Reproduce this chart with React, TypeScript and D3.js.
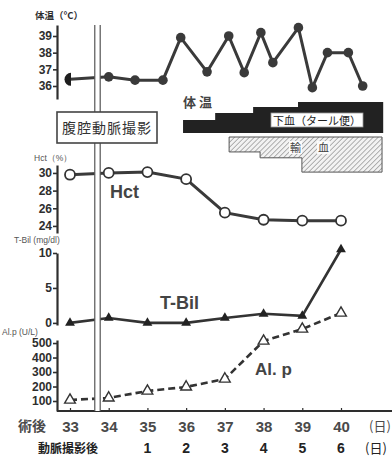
import React, { useEffect, useRef } from "react";
import * as d3 from "d3";

const W = 392;
const H = 457;

// day after surgery (術後) and day after angiography (動脈撮影後)
const days = [33, 34, 35, 36, 37, 38, 39, 40];
const daysAfterAngio = ["", "", "1", "2", "3", "4", "5", "6"];

// lab values per day
const hct = [29.8, 30, 30.1, 29.3, 25.5, 24.7, 24.6, 24.6];
const tbil = [0, 0.7, 0, 0, 0.7, 1.3, 1.0, 10.5];
const alp = [107, 121, 169, 197, 252, 514, 597, 707];

// body temperature (twice a day from day 35)
const tempTimes = [33, 34, 34.68, 35.4, 35.86, 36.54, 37.1, 37.5, 37.93, 38.24, 38.9, 39.26, 39.65, 40.19, 40.56];
const tempValues = [36.4, 36.55, 36.35, 36.35, 38.9, 36.85, 39.0, 36.8, 39.2, 37.4, 39.5, 35.9, 38.0, 38.0, 36.0];

const tempTicks = [36, 37, 38, 39];
const hctTicks = [24, 26, 28, 30];
const tbilTicks = [0, 5, 10];
const alpTicks = [100, 200, 300, 400, 500];

// 下血 (melena) amount steps and 輸血 (transfusion) steps
const melenaStart = [35.92, 36.75, 37.73, 38.89];
const melenaLevel = [2, 3.08, 4, 4.77];
const melenaEnd = 41.09;
const transfusionStart = [37.11, 37.91, 38.99];
const transfusionLevel = [2.3, 3.2, 5.4];
const transfusionEnd = 41.06;

const angioDay = [33.64, 33.78];

const NUM_FONT = "'Liberation Sans', Arial, sans-serif";
const JP_FONT = "'Noto Sans CJK JP', 'Noto Sans', sans-serif";
const INK = "#2e2e2e";

const x = d3.scaleLinear().domain([33, 40]).range([70, 341]);
const yTemp = d3.scaleLinear().domain([35.22, 39.66]).range([99, 25]);
const yHct = d3.scaleLinear().domain([23.2, 30.9]).range([233, 165]);
const yTbil = d3.scaleLinear().domain([-0.3, 10]).range([325, 253]);
const yAlp = d3.scaleLinear().domain([31, 521]).range([411, 340]);
const yMelena = d3.scaleLinear().domain([0, 1]).range([133, 126.5]);
const yTrans = d3.scaleLinear().domain([0, 1]).range([137, 143.5]);

const AXIS_X = 57;
const BASE_Y = 411;

export default function App() {
  const axesRef = useRef<SVGGElement>(null);

  useEffect(() => {
    const g = d3.select(axesRef.current);
    g.selectAll("*").remove();

    const left = (scale: d3.ScaleLinear<number, number>, ticks: number[]) => {
      const a = g
        .append("g")
        .attr("transform", `translate(${AXIS_X},0)`)
        .call(d3.axisLeft(scale).tickValues(ticks).tickSizeInner(4).tickSizeOuter(0).tickPadding(1).tickFormat(d3.format("d")));
      a.select(".domain").attr("stroke", INK).attr("stroke-width", 2.2);
      a.selectAll(".tick line").attr("stroke", INK).attr("stroke-width", 1.6);
      a.selectAll("text")
        .attr("fill", INK)
        .attr("font-family", NUM_FONT)
        .attr("font-weight", "bold")
        .attr("font-size", 12);
    };
    left(yTemp, tempTicks);
    left(yHct, hctTicks);
    left(yTbil, tbilTicks);
    left(yAlp, alpTicks);

    const b = g
      .append("g")
      .attr("transform", `translate(0,${BASE_Y})`)
      .call(d3.axisBottom(x).tickValues(days).tickSize(-3).tickPadding(10).tickFormat(d3.format("d")));
    b.select(".domain").remove();
    b.selectAll(".tick line").attr("stroke", INK).attr("stroke-width", 1.2);
    b.selectAll("text")
      .attr("fill", "#4a4a4a")
      .attr("font-family", NUM_FONT)
      .attr("font-weight", "bold")
      .attr("font-size", 15);
  }, []);

  const line = (ys: d3.ScaleLinear<number, number>, vals: number[]) =>
    d3.line<number>().x((_, i) => x(days[i])).y((d) => ys(d))(vals) || "";

  const tempLine =
    d3
      .line<number>()
      .x((_, i) => x(tempTimes[i]))
      .y((d) => yTemp(d))(tempValues) || "";

  const melenaData = [...melenaStart.map((s, i) => ({ d: s, l: melenaLevel[i] })), { d: melenaEnd, l: melenaLevel[melenaLevel.length - 1] }];
  const melenaArea =
    d3
      .area<{ d: number; l: number }>()
      .curve(d3.curveStepAfter)
      .x((p) => x(p.d))
      .y0(yMelena(0))
      .y1((p) => yMelena(p.l))(melenaData) || "";

  const transData = [...transfusionStart.map((s, i) => ({ d: s, l: transfusionLevel[i] })), { d: transfusionEnd, l: transfusionLevel[transfusionLevel.length - 1] }];
  const transArea =
    d3
      .area<{ d: number; l: number }>()
      .curve(d3.curveStepAfter)
      .x((p) => x(p.d))
      .y0(yTrans(0))
      .y1((p) => yTrans(p.l))(transData) || "";

  const tri = d3.symbol(d3.symbolTriangle, 42)() || "";
  const triOpen = d3.symbol(d3.symbolTriangle, 50)() || "";
  const halfDot = d3.arc()({ innerRadius: 0, outerRadius: 6.5, startAngle: Math.PI, endAngle: 2 * Math.PI }) || "";

  return (
    <svg width={W} height={H} style={{ position: "absolute", left: 0, top: 0, background: "#fff" }}>
      <defs>
        <pattern id="hatch" width="3.5" height="3.5" patternUnits="userSpaceOnUse" patternTransform="rotate(45)">
          <rect width="3.5" height="3.5" fill="#f2f2f2" />
          <line x1="0" y1="0" x2="0" y2="3.5" stroke="#8a8a8a" strokeWidth="1.3" />
        </pattern>
      </defs>

      {/* axis titles */}
      <text x={35} y={19} fontFamily={JP_FONT} fontWeight="bold" fontSize={9.5} fill={INK}>体温（°C）</text>
      <text x={34} y={161} fontFamily={NUM_FONT} fontSize={8.5} fill="#555">Hct（%）</text>
      <text x={14} y={243} fontFamily={NUM_FONT} fontSize={8.5} fill="#555">T-Bil (mg/dl)</text>
      <text x={2} y={335} fontFamily={NUM_FONT} fontSize={8.5} fill="#555">Al.p (U/L)</text>

      {/* melena / transfusion bars */}
      <path d={melenaArea} fill="#222" />
      <path d={transArea} fill="url(#hatch)" stroke="#555" strokeWidth={1} />
      <rect x={271} y={113} width={92} height={14} fill="#fff" stroke="#999" strokeWidth={0.8} />
      <text x={317} y={124.5} textAnchor="middle" fontFamily={JP_FONT} fontSize={11} fill="#222">下血（タール便）</text>
      <rect x={289} y={141} width={13} height={13} fill="#fff" opacity={0.85} />
      <rect x={317} y={141} width={13} height={13} fill="#fff" opacity={0.85} />
      <text x={295.5} y={152} textAnchor="middle" fontFamily={JP_FONT} fontSize={11} fill="#444">輸</text>
      <text x={323.5} y={152} textAnchor="middle" fontFamily={JP_FONT} fontSize={11} fill="#444">血</text>
      <text x={183} y={107} fontFamily={JP_FONT} fontWeight="bold" fontSize={13} fill="#444">体 温</text>

      {/* temperature */}
      <path d={tempLine} fill="none" stroke="#3a3a3a" strokeWidth={3} />
      {tempValues.map((v, i) =>
        i === 0 ? (
          <path key={i} d={halfDot} transform={`translate(${x(tempTimes[i]) + 1},${yTemp(v)})`} fill="#1e1e1e" />
        ) : (
          <circle key={i} cx={x(tempTimes[i])} cy={yTemp(v)} r={4.8} fill="#3a3a3a" />
        )
      )}

      {/* Hct */}
      <path d={line(yHct, hct)} fill="none" stroke="#3a3a3a" strokeWidth={3} />
      {hct.map((v, i) => (
        <circle key={i} cx={x(days[i])} cy={yHct(v)} r={5} fill="#fff" stroke="#333" strokeWidth={1.8} />
      ))}
      <text x={110} y={198} fontFamily={NUM_FONT} fontWeight="bold" fontSize={18} fill="#444">Hct</text>

      {/* T-Bil */}
      <path d={line(yTbil, tbil)} fill="none" stroke="#333" strokeWidth={2.6} />
      {tbil.map((v, i) => (
        <path key={i} d={tri} transform={`translate(${x(days[i])},${yTbil(v)})`} fill="#222" />
      ))}
      <text x={160} y={309} fontFamily={NUM_FONT} fontWeight="bold" fontSize={18} fill="#444">T-Bil</text>

      {/* Al.p */}
      <path d={line(yAlp, alp)} fill="none" stroke="#333" strokeWidth={2.6} strokeDasharray="7,4" />
      {alp.map((v, i) => (
        <path key={i} d={triOpen} transform={`translate(${x(days[i])},${yAlp(v)})`} fill="#fff" stroke="#333" strokeWidth={1.4} />
      ))}
      <text x={255} y={375} fontFamily={NUM_FONT} fontWeight="bold" fontSize={17} fill="#444">Al. p</text>

      <g ref={axesRef} />

      {/* baseline */}
      <line x1={AXIS_X} x2={W} y1={BASE_Y} y2={BASE_Y} stroke={INK} strokeWidth={2.2} />

      {/* angiography double line */}
      <rect x={x(angioDay[0])} y={25} width={x(angioDay[1]) - x(angioDay[0])} height={BASE_Y - 25} fill="#fff" />
      <line x1={x(angioDay[0])} x2={x(angioDay[0])} y1={25} y2={BASE_Y} stroke="#555" strokeWidth={1.2} />
      <line x1={x(angioDay[1])} x2={x(angioDay[1])} y1={25} y2={BASE_Y} stroke="#555" strokeWidth={1.2} />

      <rect x={57} y={112} width={100} height={31} fill="#fff" stroke="#444" strokeWidth={1.6} />
      <text x={107} y={133} textAnchor="middle" fontFamily={JP_FONT} fontSize={14} letterSpacing={1} fill="#333">腹腔動脈撮影</text>

      {/* x labels */}
      <text x={32} y={431} textAnchor="middle" fontFamily={JP_FONT} fontWeight="bold" fontSize={14} fill="#4a4a4a">術後</text>
      <text x={380} y={431} textAnchor="middle" fontFamily={JP_FONT} fontSize={13} fill="#4a4a4a">(日)</text>
      <text x={68} y={453} textAnchor="middle" fontFamily={JP_FONT} fontWeight="bold" fontSize={12} fill="#222">動脈撮影後</text>
      {daysAfterAngio.map((t, i) => (
        <text key={i} x={x(days[i])} y={453} textAnchor="middle" fontFamily={NUM_FONT} fontWeight="bold" fontSize={14} fill="#222">{t}</text>
      ))}
      <text x={376} y={453} textAnchor="middle" fontFamily={JP_FONT} fontSize={13} fill="#222">(日)</text>
    </svg>
  );
}
